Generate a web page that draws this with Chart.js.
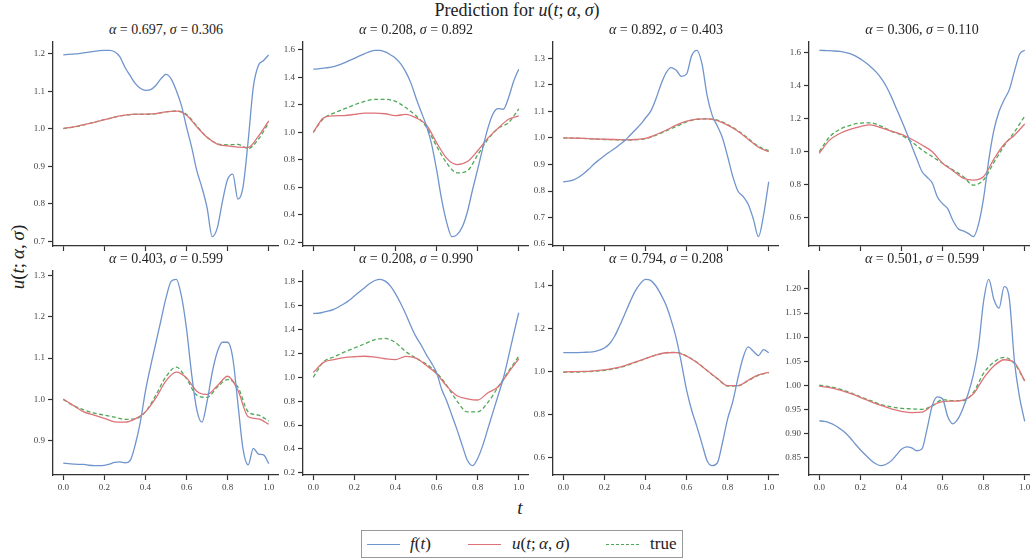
<!DOCTYPE html>
<html>
<head>
<meta charset="utf-8">
<script src="https://cdn.jsdelivr.net/npm/chart.js@4.4.1/dist/chart.umd.min.js"></script>
<style>
body { margin:0; width:1030px; height:560px; overflow:hidden; background:#fff; position:relative;
       font-family:"Liberation Serif", "Times New Roman", "DejaVu Serif", serif; color:#222; }
canvas.panel { position:absolute; }
.ptitle { position:absolute; width:226px; height:18px; line-height:18px; text-align:center; font-size:14px; white-space:nowrap; }
#mainTitle { position:absolute; left:0; width:1034px; top:0px; text-align:center; font-size:18px; }
#ylabel { position:absolute; left:-32px; top:246px; width:100px; text-align:center; font-size:19px; transform:rotate(-90deg); }
#xlabel { position:absolute; left:510px; top:497px; width:20px; text-align:center; font-size:19px; font-style:italic; }
#legend { position:absolute; left:361px; top:530px; width:320px; height:26px; border:1px solid #999; }
.lgLine { position:absolute; top:13px; width:33px; height:0; }
.lgText { position:absolute; top:3px; font-size:17px; line-height:20px; }
</style>
</head>
<body>
<div id="mainTitle">Prediction for <i>u</i>(<i>t</i>;&thinsp;<i>α</i>,&thinsp;<i>σ</i>)</div>
<div id="ylabel"><i>u</i>(<i>t</i>;&thinsp;<i>α</i>,&thinsp;<i>σ</i>)</div>
<div id="xlabel">t</div>
<div id="legend">
    <div class="lgLine" style="left:5px;border-top:1.3px solid #7094cc;"></div>
    <div class="lgText" style="left:48px;"><i>f</i>(<i>t</i>)</div>
    <div class="lgLine" style="left:106px;border-top:1.3px solid #dd7378;"></div>
    <div class="lgText" style="left:150px;"><i>u</i>(<i>t</i>;&thinsp;<i>α</i>,&thinsp;<i>σ</i>)</div>
    <div class="lgLine" style="left:244px;border-top:1.3px dashed #4fa857;"></div>
    <div class="lgText" style="left:288px;">true</div>
</div>

<script>
// sample points along t
const tFine = [0,0.025,0.05,0.075,0.1,0.125,0.15,0.175,0.2,0.225,0.25,0.275,0.3,0.325,0.35,0.375,0.4,0.425,0.45,0.475,
               0.5,0.525,0.55,0.575,0.6,0.625,0.65,0.675,0.7,0.725,0.75,0.775,0.8,0.825,0.85,0.875,0.9,0.925,0.95,0.975,1];
const tCoarse = [0,0.05,0.1,0.15,0.2,0.25,0.3,0.35,0.4,0.45,0.5,0.55,0.6,0.65,0.7,0.75,0.8,0.85,0.9,0.95,1];

const alphas = ["0.697","0.208","0.892","0.306","0.403","0.208","0.794","0.501"];
const sigmas = ["0.306","0.892","0.403","0.110","0.599","0.990","0.208","0.599"];

const xTicks = ["0.0","0.2","0.4","0.6","0.8","1.0"];
const yTicks1 = ["0.7","0.8","0.9","1.0","1.1","1.2"];
const yTicks2 = ["0.2","0.4","0.6","0.8","1.0","1.2","1.4","1.6"];
const yTicks3 = ["0.6","0.7","0.8","0.9","1.0","1.1","1.2","1.3"];
const yTicks4 = ["0.6","0.8","1.0","1.2","1.4","1.6"];
const yTicks5 = ["0.9","1.0","1.1","1.2","1.3"];
const yTicks6 = ["0.2","0.4","0.6","0.8","1.0","1.2","1.4","1.6","1.8"];
const yTicks7 = ["0.6","0.8","1.0","1.2","1.4"];
const yTicks8 = ["0.85","0.90","0.95","1.00","1.05","1.10","1.15","1.20"];

// f(t) on tFine
const fVals1 = [1.197,1.198,1.199,1.200,1.202,1.204,1.206,1.208,1.209,1.209,1.205,1.192,1.164,1.142,1.121,1.108,1.102,1.104,1.115,1.133,
                1.145,1.133,1.102,1.062,1.004,0.950,0.888,0.843,0.789,0.712,0.736,0.807,0.865,0.879,0.812,0.845,0.968,1.111,1.169,1.182,1.197];
const fVals2 = [1.460,1.462,1.467,1.472,1.478,1.491,1.505,1.522,1.539,1.556,1.573,1.588,1.597,1.596,1.585,1.565,1.540,1.500,1.440,1.360,
                1.250,1.150,1.050,0.920,0.730,0.510,0.340,0.240,0.255,0.310,0.420,0.580,0.730,0.885,1.030,1.135,1.172,1.168,1.250,1.370,1.460];
const fVals3 = [0.835,0.837,0.842,0.852,0.866,0.883,0.902,0.918,0.933,0.947,0.960,0.975,0.990,1.010,1.030,1.050,1.075,1.100,1.145,1.200,
                1.245,1.265,1.255,1.232,1.240,1.310,1.330,1.280,1.160,1.085,1.045,1.000,0.930,0.855,0.800,0.780,0.750,0.695,0.628,0.710,0.835];
const fVals4 = [1.614,1.613,1.612,1.610,1.607,1.602,1.594,1.580,1.562,1.540,1.515,1.485,1.447,1.398,1.335,1.262,1.190,1.115,1.035,0.955,
                0.880,0.845,0.810,0.725,0.685,0.655,0.585,0.535,0.520,0.505,0.485,0.560,0.720,0.950,1.130,1.243,1.315,1.376,1.488,1.590,1.614];
const fVals5 = [0.846,0.845,0.844,0.843,0.843,0.841,0.840,0.840,0.841,0.844,0.848,0.849,0.847,0.852,0.890,0.945,1.020,1.080,1.135,1.190,
                1.245,1.285,1.290,1.250,1.170,1.060,0.975,0.945,0.995,1.065,1.115,1.138,1.138,1.100,0.990,0.880,0.842,0.882,0.868,0.866,0.845];
const fVals6 = [1.534,1.536,1.545,1.555,1.568,1.590,1.615,1.645,1.680,1.715,1.750,1.785,1.810,1.820,1.805,1.765,1.700,1.620,1.530,1.430,
                1.340,1.270,1.190,1.120,1.040,0.900,0.800,0.680,0.560,0.430,0.305,0.260,0.320,0.430,0.570,0.710,0.850,0.990,1.170,1.360,1.540];
const fVals7 = [1.089,1.089,1.089,1.089,1.090,1.091,1.093,1.100,1.110,1.130,1.165,1.215,1.270,1.325,1.375,1.410,1.430,1.425,1.400,1.360,
                1.310,1.240,1.155,1.040,0.915,0.820,0.745,0.665,0.585,0.562,0.575,0.670,0.780,0.860,0.970,1.065,1.115,1.095,1.075,1.103,1.088];
const fVals8 = [0.926,0.925,0.922,0.917,0.910,0.902,0.891,0.878,0.866,0.855,0.845,0.837,0.833,0.836,0.843,0.855,0.867,0.872,0.870,0.864,
                0.868,0.910,0.958,0.976,0.972,0.935,0.920,0.930,0.953,0.983,1.022,1.080,1.175,1.220,1.178,1.160,1.205,1.180,1.050,0.975,0.925];

// u(t; alpha, sigma) on tCoarse
const uVals1 = [1.001,1.005,1.011,1.017,1.024,1.031,1.036,1.039,1.039,1.040,1.045,1.047,1.036,1.005,0.977,0.959,0.954,0.951,0.950,0.980,1.021];
const uVals2 = [1.000,1.105,1.120,1.122,1.130,1.140,1.140,1.135,1.122,1.130,1.105,1.055,0.925,0.810,0.765,0.787,0.866,0.958,1.030,1.095,1.120];
const uVals3 = [1.000,0.999,0.998,0.996,0.995,0.994,0.993,0.994,0.998,1.012,1.029,1.048,1.063,1.071,1.072,1.065,1.048,1.025,0.995,0.965,0.948];
const uVals4 = [0.990,1.070,1.110,1.135,1.152,1.162,1.145,1.125,1.105,1.075,1.040,1.000,0.930,0.885,0.840,0.828,0.850,0.955,1.045,1.100,1.168];
const uVals5 = [1.001,0.985,0.970,0.962,0.954,0.946,0.945,0.953,0.970,1.003,1.045,1.066,1.052,1.020,1.012,1.033,1.056,1.022,0.958,0.953,0.940];
const uVals6 = [1.040,1.125,1.148,1.165,1.172,1.176,1.168,1.155,1.148,1.175,1.160,1.100,1.030,0.925,0.845,0.820,0.810,0.870,0.920,1.040,1.155];
const uVals7 = [0.999,1.000,1.001,1.004,1.008,1.016,1.028,1.044,1.061,1.077,1.088,1.089,1.072,1.043,1.005,0.968,0.935,0.935,0.960,0.985,0.997];
const uVals8 = [0.998,0.995,0.990,0.983,0.975,0.966,0.958,0.951,0.946,0.943,0.944,0.958,0.966,0.967,0.969,0.982,1.015,1.040,1.053,1.047,1.009];

// true solution on tCoarse
const trueVals1 = [1.000,1.004,1.010,1.017,1.024,1.031,1.036,1.038,1.038,1.040,1.045,1.047,1.038,1.007,0.977,0.960,0.957,0.958,0.947,0.972,1.016];
const trueVals2 = [1.000,1.100,1.140,1.170,1.200,1.225,1.240,1.240,1.225,1.180,1.120,1.040,0.900,0.775,0.705,0.720,0.835,0.948,1.030,1.070,1.170];
const trueVals3 = [1.000,0.999,0.998,0.996,0.994,0.993,0.992,0.993,0.997,1.010,1.026,1.043,1.060,1.070,1.072,1.067,1.050,1.027,0.998,0.968,0.952];
const trueVals4 = [1.000,1.090,1.135,1.160,1.173,1.175,1.155,1.125,1.100,1.060,1.010,0.970,0.930,0.890,0.850,0.797,0.830,0.935,1.035,1.120,1.215];
const trueVals5 = [1.000,0.985,0.975,0.967,0.962,0.957,0.952,0.953,0.970,1.010,1.055,1.078,1.050,1.010,1.005,1.030,1.048,1.030,0.970,0.962,0.948];
const trueVals6 = [1.000,1.130,1.170,1.210,1.245,1.280,1.315,1.325,1.290,1.215,1.160,1.110,1.040,0.930,0.800,0.710,0.710,0.790,0.920,1.050,1.175];
const trueVals7 = [0.997,0.998,0.999,1.002,1.006,1.014,1.026,1.043,1.060,1.077,1.088,1.090,1.073,1.044,1.005,0.967,0.933,0.934,0.958,0.983,0.995];
const trueVals8 = [1.000,0.997,0.992,0.985,0.976,0.968,0.960,0.955,0.952,0.951,0.950,0.957,0.970,0.968,0.968,0.985,1.025,1.048,1.058,1.045,1.009];

const fAll = [fVals1,fVals2,fVals3,fVals4,fVals5,fVals6,fVals7,fVals8];
const uAll = [uVals1,uVals2,uVals3,uVals4,uVals5,uVals6,uVals7,uVals8];
const trueAll = [trueVals1,trueVals2,trueVals3,trueVals4,trueVals5,trueVals6,trueVals7,trueVals8];
const yTicksAll = [yTicks1,yTicks2,yTicks3,yTicks4,yTicks5,yTicks6,yTicks7,yTicks8];

// layout of the grid (axes boxes)
const colLeft = [53, 303, 553, 809];
const rowTop = [41, 270];
const axW = 226;
const axH = 205;
const yAxisW = 45;
const xAxisH = 25;

const blue = "#7094cc";
const red = "#dd7378";
const green = "#4fa857";
const spine = "#333";

function toPoints(ts, vals){
    return ts.map((t, i) => ({ x: t, y: vals[i] }));
}

function makePanel(i){

    const row = Math.floor(i / 4);
    const col = i % 4;
    const bottomRow = row === 1;

    const canvas = document.createElement("canvas");
    canvas.className = "panel";
    canvas.width = yAxisW + axW;
    canvas.height = axH + xAxisH;
    canvas.style.left = (colLeft[col] - yAxisW) + "px";
    canvas.style.top = rowTop[row] + "px";
    document.body.appendChild(canvas);

    const title = document.createElement("div");
    title.className = "ptitle";
    title.style.left = colLeft[col] + "px";
    title.style.top = (rowTop[row] - 20) + "px";
    title.innerHTML = `<i>α</i> = ${alphas[i]}, <i>σ</i> = ${sigmas[i]}`;
    document.body.appendChild(title);

    // y range like matplotlib: data extent + 5% margins
    const all = fAll[i].concat(uAll[i], trueAll[i]);
    const lo = Math.min(...all);
    const hi = Math.max(...all);
    const pad = (hi - lo) * 0.05;

    const yLabels = yTicksAll[i];

    new Chart(canvas, {
        type: "line",
        data: {
            datasets: [
                {
                    data: toPoints(tFine, fAll[i]),
                    borderColor: blue,
                    borderWidth: 1.3,
                    pointRadius: 0,
                    cubicInterpolationMode: "monotone"
                },
                {
                    data: toPoints(tCoarse, uAll[i]),
                    borderColor: red,
                    borderWidth: 1.3,
                    pointRadius: 0,
                    cubicInterpolationMode: "monotone"
                },
                {
                    data: toPoints(tCoarse, trueAll[i]),
                    borderColor: green,
                    borderWidth: 1.3,
                    borderDash: [4, 2.5],
                    pointRadius: 0,
                    cubicInterpolationMode: "monotone"
                }
            ]
        },
        options: {
            responsive: false,
            animation: false,
            devicePixelRatio: 1,
            layout: { padding: 0, autoPadding: false },
            plugins: {
                legend: { display: false },
                tooltip: { enabled: false }
            },
            scales: {
                x: {
                    type: "linear",
                    min: -0.05,
                    max: 1.05,
                    afterBuildTicks: scale => {
                        scale.ticks = xTicks.map(s => ({ value: parseFloat(s) }));
                    },
                    afterFit: scale => {
                        scale.height = xAxisH;
                        scale.paddingLeft = 0;
                        scale.paddingRight = 0;
                    },
                    ticks: {
                        autoSkip: false,
                        maxRotation: 0,
                        padding: 2,
                        color: "#444",
                        font: { family: "Liberation Serif", size: 9 },
                        callback: (v, idx) => bottomRow ? xTicks[idx] : ""
                    },
                    grid: { display: true, drawOnChartArea: false, drawTicks: true, tickLength: 5, tickWidth: 1.2, color: spine },
                    border: { display: true, color: spine, width: 1.3 }
                },
                y: {
                    type: "linear",
                    min: lo - pad,
                    max: hi + pad,
                    afterBuildTicks: scale => {
                        scale.ticks = yLabels.map(s => ({ value: parseFloat(s) }));
                    },
                    afterFit: scale => {
                        scale.width = yAxisW;
                        scale.paddingTop = 0;
                        scale.paddingBottom = 0;
                    },
                    ticks: {
                        autoSkip: false,
                        padding: 3,
                        color: "#444",
                        font: { family: "Liberation Serif", size: 9 },
                        callback: (v, idx) => yLabels[idx]
                    },
                    grid: { display: true, drawOnChartArea: false, drawTicks: true, tickLength: 5, tickWidth: 1.2, color: spine },
                    border: { display: true, color: spine, width: 1.3 }
                }
            }
        }
    });
}

for (let i = 0; i < 8; i++) {
    makePanel(i);
}
</script>
</body>
</html>
